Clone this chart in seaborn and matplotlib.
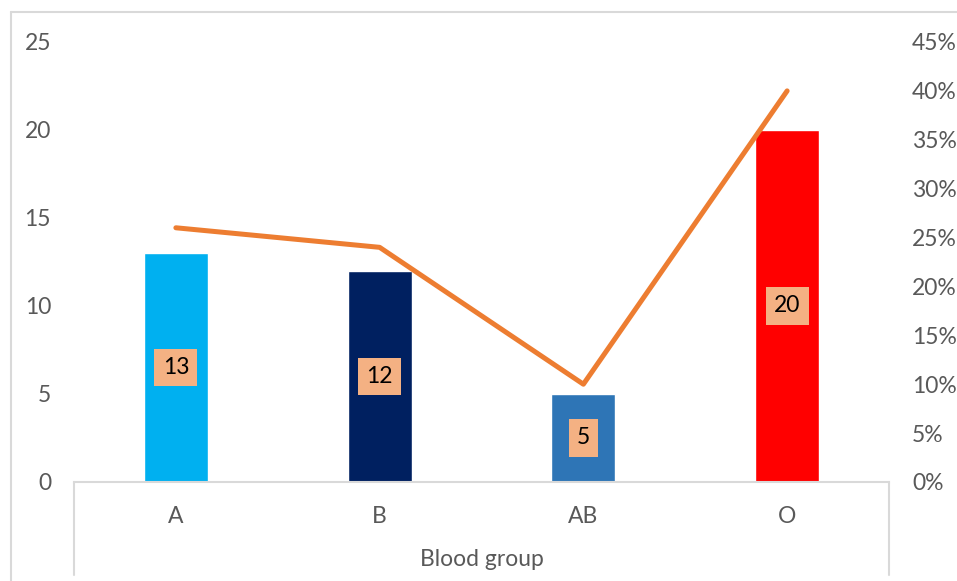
import numpy as np
import pandas as pd
import matplotlib
matplotlib.use("Agg")
import matplotlib.pyplot as plt
from matplotlib.lines import Line2D
from matplotlib.ticker import PercentFormatter
import seaborn as sns

categories = ["A", "B", "AB", "O"]
counts = [13, 12, 5, 20]
percents = [0.26, 0.24, 0.10, 0.40]
bar_colors = ["#00B0F0", "#002060", "#2E75B6", "#FF0000"]
x_title = "Blood group"
left_ticks = [0, 5, 10, 15, 20, 25]
right_ticks = [0, 0.05, 0.10, 0.15, 0.20, 0.25, 0.30, 0.35, 0.40, 0.45]

sns.set_theme(style="white")
plt.rcParams["font.family"] = ["Lato", "DejaVu Sans"]

W, H = 957, 581
fig = plt.figure(figsize=(W / 100, H / 100), dpi=100)
L, R, T, B = 74, 889, 42, 482
ax = fig.add_axes([L / W, 1 - B / H, (R - L) / W, (B - T) / H])

df = pd.DataFrame({"group": categories, "count": counts})
sns.barplot(data=df, x="group", y="count", hue="group", palette=bar_colors,
            width=0.314, dodge=False, legend=False, saturation=1, ax=ax)
ax.set_xlim(-0.5, len(categories) - 0.5)
ax.set_ylim(0, 25)
ax.set_yticks(left_ticks)
ax.set_xlabel("")
ax.set_ylabel("")
gray = "#595959"
ax.tick_params(axis="y", length=0, pad=16.5, labelsize=16.5, labelcolor=gray)
ax.tick_params(axis="x", length=0, pad=17.5, labelsize=16.5, labelcolor=gray)
for s in ["top", "right", "left"]:
    ax.spines[s].set_visible(False)
ax.spines["bottom"].set_color("#D9D9D9")
ax.spines["bottom"].set_linewidth(1.5)

ax2 = ax.twinx()
sns.lineplot(x=np.arange(len(categories)), y=percents, color="#ED7D31",
             linewidth=3.6, ax=ax2, solid_capstyle="round")
ax2.set_ylim(0, 0.45)
ax2.set_yticks(right_ticks)
ax2.yaxis.set_major_formatter(PercentFormatter(1.0, decimals=0))
ax2.tick_params(axis="y", length=0, pad=16.5, labelsize=16.5, labelcolor=gray)
ax2.set_ylabel("")
for s in ax2.spines.values():
    s.set_visible(False)
ax2.set_xlim(-0.5, len(categories) - 0.5)

for i, v in enumerate(counts):
    ax.text(i, v / 2, str(v), ha="center", va="center", fontsize=16.5,
            color="black", zorder=5,
            bbox=dict(boxstyle="square,pad=0.36", fc="#F4B183", ec="none"))

# category box and chart border
lc = "#D9D9D9"
fig.add_artist(Line2D([L / W, L / W], [1 - B / H, 1 - 575 / H], color=lc, lw=1.5, transform=fig.transFigure))
fig.add_artist(Line2D([R / W, R / W], [1 - B / H, 1 - 575 / H], color=lc, lw=1.5, transform=fig.transFigure))
fig.add_artist(Line2D([10.5 / W, 10.5 / W], [1 - 12 / H, 0], color=lc, lw=1.5, transform=fig.transFigure))
fig.add_artist(Line2D([10.5 / W, 1], [1 - 12 / H, 1 - 12 / H], color=lc, lw=1.5, transform=fig.transFigure))

fig.text((L + R) / 2 / W, 1 - 560 / H, x_title, ha="center", va="center",
         fontsize=16.5, color=gray)

fig.savefig("out.png", dpi=100)
